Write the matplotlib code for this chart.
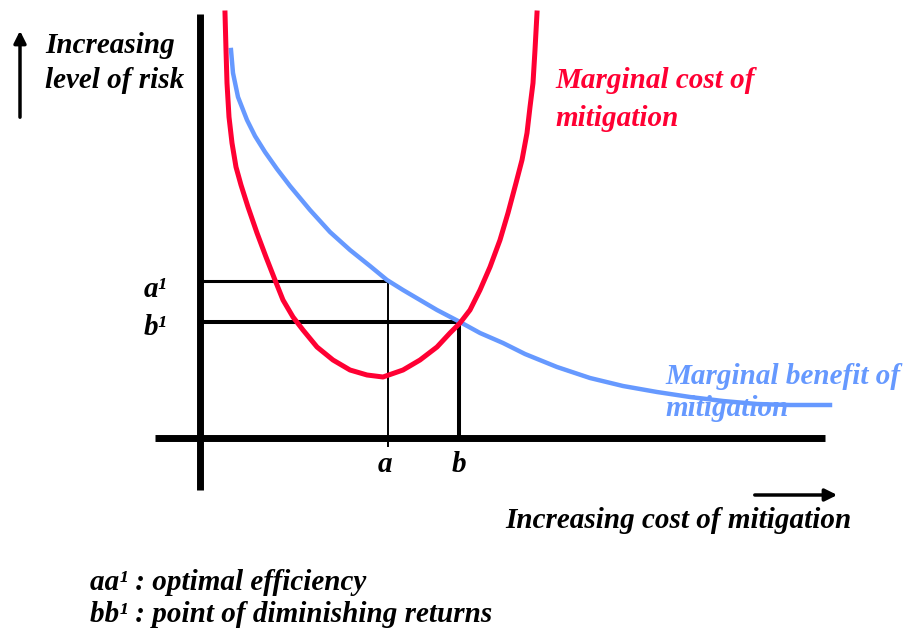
import matplotlib.pyplot as plt

# --- Görbék pontjai ---
cost_x = [0.25, 0.26, 0.27, 0.29, 0.32, 0.36, 0.41, 0.48, 0.57, 0.66,
          0.75, 0.83, 0.93, 1.03, 1.17, 1.33, 1.50, 1.67, 1.83, 2.03,
          2.20, 2.37, 2.50, 2.60, 2.70, 2.80, 2.90, 3.00, 3.08, 3.16,
          3.22, 3.27, 3.30, 3.33, 3.35, 3.37]
cost_y = [4.25, 3.88, 3.55, 3.21, 2.95, 2.71, 2.53, 2.31, 2.05, 1.81,
          1.58, 1.38, 1.21, 1.08, 0.91, 0.78, 0.68, 0.63, 0.61, 0.68,
          0.78, 0.91, 1.05, 1.15, 1.28, 1.48, 1.71, 1.98, 2.25, 2.55,
          2.78, 3.05, 3.31, 3.55, 3.88, 4.25]

benefit_x = [0.31, 0.33, 0.38, 0.47, 0.55, 0.65, 0.77, 0.90, 1.10, 1.30,
             1.50, 1.70, 1.87, 2.03, 2.20, 2.37, 2.60, 2.80, 3.03, 3.25,
             3.57, 3.90, 4.23, 4.57, 4.90, 5.23, 5.57, 5.90, 6.30]
benefit_y = [3.88, 3.65, 3.41, 3.18, 3.02, 2.86, 2.69, 2.52, 2.28, 2.06,
             1.88, 1.72, 1.58, 1.48, 1.38, 1.28, 1.16, 1.05, 0.95, 0.84,
             0.71, 0.60, 0.52, 0.46, 0.41, 0.37, 0.34, 0.33, 0.33]

a, a1 = 1.88, 1.57
b, b1 = 2.59, 1.16

red = '#ff0033'
blue = '#6699ff'
font = dict(family='Liberation Serif', weight='bold', style='italic', size=21)

fig = plt.figure(figsize=(9.08, 6.32), dpi=100)
ax = fig.add_axes([0, 0, 1, 1])
ax.set_xlim(-2.0, 7.08)
ax.set_ylim(-1.94, 4.38)
ax.axis('off')

# --- Tengelyek ---
ax.plot([0, 0], [-0.52, 4.24], color='black', lw=5, solid_capstyle='butt')
ax.plot([-0.45, 6.25], [0, 0], color='black', lw=5, solid_capstyle='butt')

# --- Segédvonalak ---
ax.plot([0, a], [a1, a1], color='black', lw=2.2)
ax.plot([a, a], [a1, -0.08], color='black', lw=1.4)
ax.plot([0, b], [b1, b1], color='black', lw=2.9)
ax.plot([b, b], [b1, 0], color='black', lw=2.9)

# --- Görbék ---
ax.plot(benefit_x, benefit_y, color=blue, lw=3.2, solid_joinstyle='round')
ax.plot(cost_x, cost_y, color=red, lw=3.6, solid_joinstyle='round')

# --- Feliratok ---
ax.text(-0.45, a1 - 0.08, 'a¹', ha='center', va='center', **font)
ax.text(-0.45, b1 - 0.05, 'b¹', ha='center', va='center', **font)
ax.text(a - 0.03, -0.27, 'a', ha='center', va='center', **font)
ax.text(b, -0.27, 'b', ha='center', va='center', **font)

ax.text(-1.55, 3.93, 'Increasing', ha='left', va='center', **font)
ax.text(-1.55, 3.58, 'level of risk', ha='left', va='center', **font)
ax.annotate('', xy=(-1.80, 4.10), xytext=(-1.80, 3.18),
            arrowprops=dict(arrowstyle='-|>', color='black', lw=2.5,
                            mutation_scale=18))

ax.text(3.55, 3.58, 'Marginal cost of', color=red, ha='left', va='center', **font)
ax.text(3.55, 3.20, 'mitigation', color=red, ha='left', va='center', **font)

ax.text(4.65, 0.61, 'Marginal benefit of', color=blue, ha='left', va='center', **font)
ax.text(4.65, 0.30, 'mitigation', color=blue, ha='left', va='center', **font)

ax.text(3.05, -0.83, 'Increasing cost of mitigation', ha='left', va='center', **font)
ax.annotate('', xy=(6.40, -0.57), xytext=(5.52, -0.57),
            arrowprops=dict(arrowstyle='-|>', color='black', lw=2.5,
                            mutation_scale=18))

ax.text(-1.10, -1.44, 'aa¹ : optimal efficiency', ha='left', va='center', **font)
ax.text(-1.10, -1.77, 'bb¹ : point of diminishing returns', ha='left', va='center', **font)

fig.savefig('out.png', dpi=100)
